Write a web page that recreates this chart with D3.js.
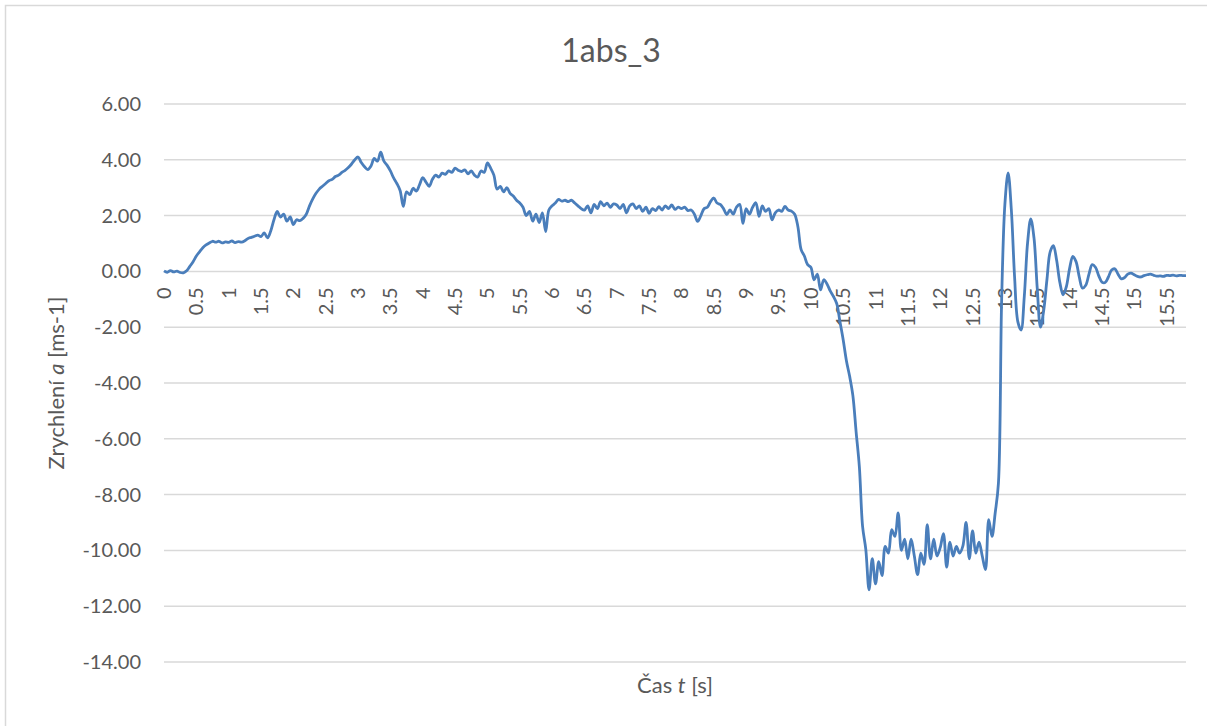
<!DOCTYPE html>
<html>
<head>
<meta charset="utf-8">
<script src="https://cdn.jsdelivr.net/npm/d3@7"></script>
<style>
  html, body { margin: 0; padding: 0; background: #fff; }
  svg { display: block; font-family: Lato, "Open Sans", sans-serif; }
</style>
</head>
<body>
<div id="chart"></div>
<script>
// chart title and axis titles
var TITLE = "1abs_3";

// sampling step of the recorded series [s]
var T_STEP = 0.05;

// acceleration a [m/s^2], one value every T_STEP seconds
var accel = [
  0.02, -0.03, 0.03, -0.02, 0.01, -0.04, -0.05, 0.02, 0.18, 0.35,
  0.55, 0.70, 0.85, 0.95, 1.02, 1.08, 1.05, 1.08, 1.02, 1.06,
  1.04, 1.09, 1.03, 1.07, 1.05, 1.10, 1.18, 1.22, 1.26, 1.30,
  1.25, 1.38, 1.20, 1.45, 1.85, 2.15, 1.95, 2.05, 1.80, 1.95,
  1.68, 1.85, 1.82, 1.90, 2.05, 2.35, 2.60, 2.80, 2.95, 3.05,
  3.15, 3.25, 3.30, 3.40, 3.45, 3.55, 3.62, 3.72, 3.85, 4.00,
  4.10, 3.90, 3.75, 3.65, 3.78, 4.05, 3.95, 4.27, 3.95, 3.80,
  3.60, 3.35, 3.15, 2.90, 2.33, 2.85, 2.75, 2.98, 2.88, 3.10,
  3.36, 3.20, 3.05, 3.30, 3.45, 3.38, 3.52, 3.48, 3.60, 3.55,
  3.70, 3.62, 3.58, 3.64, 3.50, 3.60, 3.45, 3.38, 3.60, 3.55,
  3.89, 3.70, 3.45, 2.95, 3.05, 2.85, 3.00, 2.80, 2.70, 2.55,
  2.45, 2.30, 2.00, 2.15, 1.80, 2.05, 1.75, 2.10, 1.43, 2.20,
  2.35, 2.45, 2.58, 2.52, 2.55, 2.50, 2.55, 2.45, 2.35, 2.25,
  2.20, 2.35, 2.10, 2.40, 2.25, 2.50, 2.35, 2.45, 2.30, 2.42,
  2.38, 2.25, 2.40, 2.10, 2.35, 2.42, 2.25, 2.35, 2.15, 2.30,
  2.08, 2.25, 2.18, 2.32, 2.20, 2.35, 2.25, 2.38, 2.22, 2.30,
  2.25, 2.30, 2.18, 2.20, 2.05, 1.79, 2.00, 2.25, 2.30, 2.50,
  2.63, 2.45, 2.40, 2.25, 2.04, 2.20, 2.05, 2.30, 2.40, 1.72,
  2.25, 2.05, 2.30, 2.46, 1.97, 2.35, 2.15, 2.25, 1.85, 2.10,
  2.20, 2.15, 2.33, 2.20, 2.16, 2.05, 1.60, 0.78, 0.55, 0.24,
  0.15, -0.30, -0.10, -0.66, -0.30, -0.45, -0.70, -0.90, -1.15, -1.80,
  -2.45, -3.20, -3.76, -4.45, -5.75, -7.00, -9.14, -9.97, -11.41, -10.30,
  -11.20, -10.40, -10.90, -9.86, -10.10, -9.26, -9.50, -8.66, -10.00, -9.60,
  -10.30, -9.60, -10.20, -10.87, -10.10, -10.50, -9.08, -10.30, -9.60, -10.20,
  -9.90, -9.40, -10.60, -9.70, -10.20, -9.86, -10.10, -9.85, -9.00, -10.30,
  -9.30, -10.10, -9.70, -10.20, -10.69, -8.90, -9.50, -8.66, -7.60, -1.00,
  2.40, 3.53, 2.20, -0.20, -1.80, -2.10, -0.90, 1.00, 1.88, 1.20,
  -0.60, -2.00, -1.40, -0.30, 0.70, 0.92, 0.40, -0.40, -0.84, -0.55,
  0.10, 0.54, 0.35, -0.20, -0.60, -0.50, -0.10, 0.24, 0.15, -0.15,
  -0.38, -0.40, -0.20, 0.05, 0.09, -0.10, -0.27, -0.22, -0.10, -0.06,
  -0.12, -0.18, -0.20, -0.15, -0.12, -0.10, -0.14, -0.17, -0.16, -0.18,
  -0.14, -0.15, -0.13, -0.16, -0.14, -0.15, -0.15
];

// category labels shown on the time axis
var timeLabels = ["0", "0.5", "1", "1.5", "2", "2.5", "3", "3.5", "4", "4.5",
  "5", "5.5", "6", "6.5", "7", "7.5", "8", "8.5", "9", "9.5",
  "10", "10.5", "11", "11.5", "12", "12.5", "13", "13.5", "14", "14.5",
  "15", "15.5"];

// value axis ticks
var valueTicks = [6, 4, 2, 0, -2, -4, -6, -8, -10, -12, -14];

var WIDTH = 1207, HEIGHT = 726,
    TEXT = "#595959",
    GRID = "#d9d9d9",
    LINE = "#4a7ebb";

var svg = d3.select("#chart").append("svg")
    .attr("width", WIDTH)
    .attr("height", HEIGHT);

// outer chart border (only top/left fall inside the picture)
svg.append("rect")
    .attr("x", 5.5).attr("y", 5.5)
    .attr("width", 1210).attr("height", 730)
    .attr("fill", "#fff")
    .attr("stroke", GRID)
    .attr("stroke-width", 1.5);

var tMax = (accel.length - 1) * T_STEP;

var x = d3.scaleLinear()
    .domain([0, tMax])
    .range([164, 1186]);

var y = d3.scaleLinear()
    .domain([-14, 6])
    .range([662, 104]);

// horizontal gridlines
svg.append("g")
    .selectAll("line")
    .data(valueTicks)
    .enter().append("line")
    .attr("x1", 164)
    .attr("x2", 1186)
    .attr("y1", function (d) { return y(d); })
    .attr("y2", function (d) { return y(d); })
    .attr("stroke", GRID)
    .attr("stroke-width", 1.5);

// value axis labels
svg.append("g")
    .selectAll("text")
    .data(valueTicks)
    .enter().append("text")
    .attr("x", 141)
    .attr("y", function (d) { return y(d); })
    .attr("dy", "0.35em")
    .attr("text-anchor", "end")
    .attr("font-size", 20)
    .attr("fill", TEXT)
    .text(function (d) { return d.toFixed(2); });

// time axis labels, rotated, hung from the zero line
svg.append("g")
    .selectAll("text")
    .data(timeLabels)
    .enter().append("text")
    .attr("transform", function (d) {
        return "translate(" + x(+d) + "," + (y(0) + 16) + ") rotate(-90)";
    })
    .attr("dy", "0.35em")
    .attr("text-anchor", "end")
    .attr("font-size", 20)
    .attr("fill", TEXT)
    .text(function (d) { return d; });

// the measured series
var line = d3.line()
    .x(function (d, i) { return x(i * T_STEP); })
    .y(function (d) { return y(d); })
    .curve(d3.curveCatmullRom.alpha(0.5));

svg.append("path")
    .datum(accel)
    .attr("d", line)
    .attr("fill", "none")
    .attr("stroke", LINE)
    .attr("stroke-width", 2.8)
    .attr("stroke-linejoin", "round");

// title
svg.append("text")
    .attr("x", 611)
    .attr("y", 62)
    .attr("text-anchor", "middle")
    .attr("font-size", 32)
    .attr("fill", TEXT)
    .text(TITLE);

// axis titles
var xTitle = svg.append("text")
    .attr("x", 675)
    .attr("y", 693)
    .attr("text-anchor", "middle")
    .attr("font-size", 22)
    .attr("fill", TEXT);
xTitle.append("tspan").text("Čas ");
xTitle.append("tspan").attr("font-style", "italic").text("t");
xTitle.append("tspan").text(" [s]");

var yTitle = svg.append("text")
    .attr("transform", "translate(64,383) rotate(-90)")
    .attr("text-anchor", "middle")
    .attr("font-size", 22)
    .attr("fill", TEXT);
yTitle.append("tspan").text("Zrychlení ");
yTitle.append("tspan").attr("font-style", "italic").text("a");
yTitle.append("tspan").text(" [ms-1]");
</script>
</body>
</html>
